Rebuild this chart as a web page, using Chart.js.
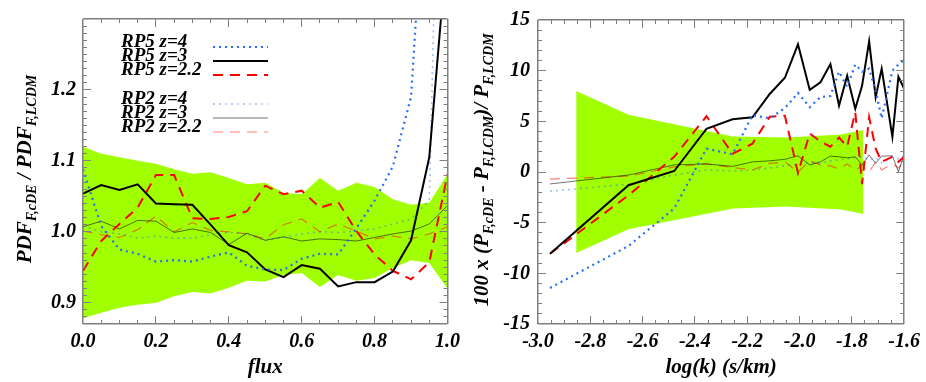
<!DOCTYPE html>
<html>
<head>
<meta charset="utf-8">
<script src="https://cdn.jsdelivr.net/npm/chart.js@4.4.0/dist/chart.umd.min.js"></script>
<style>
  body { margin: 0; background: #fff; }
  #wrap { position: relative; width: 926px; height: 382px; overflow: hidden; }
  canvas { position: absolute; top: 0; }
</style>
</head>
<body>
<div id="wrap">
  <canvas id="pdfChart" width="466" height="382" style="left:0"></canvas>
  <canvas id="pkChart" width="463" height="382" style="left:463px"></canvas>
</div>
<script>
// ---- left panel: flux PDF ratio ----
const flux = [0.0, 0.05, 0.1, 0.15, 0.2, 0.25, 0.3, 0.35, 0.4, 0.45, 0.5, 0.55, 0.6, 0.65, 0.7, 0.75, 0.8, 0.85, 0.9, 0.95, 1.0];
const rp5z4Pdf  = [1.088, 1.008, 0.975, 0.969, 0.958, 0.960, 0.958, 0.965, 0.971, 0.952, 0.947, 0.946, 0.962, 0.969, 0.968, 1.005, 1.044, 1.092, 1.190, 1.600, 2.200];
const rp5z3Pdf  = [1.054, 1.066, 1.059, 1.067, 1.040, 1.039, 1.038, 1.010, 0.981, 0.971, 0.947, 0.936, 0.953, 0.948, 0.923, 0.929, 0.929, 0.944, 0.988, 1.105, 1.410];
const rp5z22Pdf = [0.945, 0.987, 1.011, 1.034, 1.080, 1.080, 1.019, 1.018, 1.021, 1.029, 1.065, 1.053, 1.058, 1.034, 1.042, 1.001, 0.968, 0.945, 0.933, 0.957, 1.081];
const rp2z4Pdf  = [1.008, 1.000, 0.997, 0.991, 0.994, 0.991, 0.991, 0.996, 0.999, 0.997, 0.988, 0.992, 0.997, 1.000, 0.999, 1.001, 1.004, 1.011, 1.018, 1.044, 2.100];
const rp2z3Pdf  = [1.007, 1.015, 1.004, 1.016, 1.015, 0.999, 1.004, 0.999, 0.982, 0.998, 0.988, 0.993, 0.987, 0.990, 0.989, 0.987, 0.992, 0.997, 1.001, 1.011, 1.037];
const rp2z22Pdf = [1.001, 0.996, 0.992, 1.003, 1.022, 1.000, 1.013, 1.002, 1.000, 0.997, 0.990, 1.010, 1.018, 1.000, 1.011, 1.001, 0.990, 0.994, 0.990, 0.997, 1.007];
const bandPdfHi = [1.120, 1.110, 1.105, 1.100, 1.096, 1.088, 1.082, 1.084, 1.076, 1.067, 1.069, 1.055, 1.053, 1.076, 1.058, 1.069, 1.063, 1.046, 1.038, 1.041, 1.081];
const bandPdfLo = [0.878, 0.886, 0.893, 0.897, 0.900, 0.909, 0.915, 0.913, 0.921, 0.931, 0.930, 0.939, 0.942, 0.922, 0.939, 0.931, 0.935, 0.949, 0.960, 0.956, 0.920];
const fluxTicks = [0.0, 0.2, 0.4, 0.6, 0.8, 1.0];
const pdfTicks = [0.9, 1.0, 1.1, 1.2];

// ---- right panel: flux power spectrum difference ----
const logk = [-2.954, -2.654, -2.479, -2.356, -2.256, -2.180, -2.114, -2.056, -2.006, -1.961, -1.920, -1.882, -1.849, -1.818, -1.787, -1.761, -1.734, -1.709, -1.686, -1.645, -1.622, -1.600];
const rp5z4Pk  = [-11.44, -7.3, -3.6, 2.3, 1.76, 5.6, 5.3, 6.3, 7.8, 6.4, 7.4, 7.5, 9.9, 8.4, 10.6, 9.9, 10.2, 8.0, 5.3, 10.0, 10.6, 11.1];
const rp5z3Pk  = [-8.07, -1.3, 0.1, 4.25, 5.2, 5.4, 7.7, 9.3, 12.6, 8.1, 8.85, 10.65, 6.55, 9.5, 6.24, 8.5, 12.9, 7.4, 10.2, 3.46, 9.4, 8.2];
const rp5z22Pk = [-8.07, -2.3, 1.5, 5.5, 1.8, 2.8, 5.45, 5.55, -0.1, 3.8, 3.0, 2.5, 3.4, 2.5, 5.9, -1.2, 5.4, 2.3, 1.0, 1.5, 1.0, 1.5];
const rp2z4Pk  = [-1.9, -1.2, -0.3, 0.2, 0.1, 0.2, 0.4, 0.6, 0.8, 0.9, 0.9, 1.1, 1.2, 1.3, 1.4, 1.5, 1.2, 1.4, 0.9, 1.5, 1.3, 1.6];
const rp2z3Pk  = [-1.18, -0.3, 0.7, 0.8, 0.55, 1.0, 1.1, 1.25, 1.6, 0.7, 1.0, 1.57, 1.5, 1.4, 1.5, 0.7, 1.67, 0.85, 1.57, 1.6, 0.03, 1.67];
const rp2z22Pk = [-0.7, -0.4, 0.5, 0.8, 0.45, 0.2, 0.85, 1.0, 0.0, 1.1, 0.7, 0.6, 0.3, 0.8, 0.2, 0.6, 0.0, 1.0, 0.2, 0.8, 0.4, 1.0];
const bandK   = [-2.854, -2.654, -2.254, -2.050, -1.840, -1.756];
const bandPkHi = [8.0, 5.65, 3.5, 3.4, 3.7, 4.15];
const bandPkLo = [-8.0, -5.65, -3.6, -3.4, -3.7, -4.15];
const logkTicks = [-3.0, -2.8, -2.6, -2.4, -2.2, -2.0, -1.8, -1.6];
const pkTicks = [-15, -10, -5, 0, 5, 10, 15];

const labels = ['RP5 z=4', 'RP5 z=3', 'RP5 z=2.2', 'RP2 z=4', 'RP2 z=3', 'RP2 z=2.2'];
const styles = [
  {borderColor: 'rgb(40,110,240)', borderWidth: 2.2, borderDash: [2, 4]},
  {borderColor: '#000', borderWidth: 2},
  {borderColor: 'rgb(255,0,0)', borderWidth: 2, borderDash: [10, 7]},
  {borderColor: 'rgba(40,110,240,0.45)', borderWidth: 1.6, borderDash: [2, 4]},
  {borderColor: 'rgba(0,0,0,0.55)', borderWidth: 1},
  {borderColor: 'rgba(255,0,0,0.5)', borderWidth: 1.2, borderDash: [10, 7]}
];

const GREEN = 'rgb(160,255,0)';
const AXIS = '#808080';
const FONT = 'Liberation Serif';
const tickFont = {family: FONT, size: 20, style: 'italic', weight: 'bold'};

function pts(xs, ys) {
  return xs.map((x, i) => ({x: x, y: ys[i]}));
}

function lineSets(xs, series) {
  return series.map((ys, i) => Object.assign({
    label: labels[i],
    data: pts(xs, ys),
    pointRadius: 0,
    fill: false,
    tension: 0,
    clip: 0,
    order: 0
  }, styles[i]));
}

function bandSets(xs, hi, lo) {
  return [
    {label: 'band', data: pts(xs, hi), borderWidth: 0, pointRadius: 0, backgroundColor: GREEN, fill: '+1', order: 10, clip: 0},
    {label: 'band', data: pts(xs, lo), borderWidth: 0, pointRadius: 0, fill: false, order: 10, clip: 0}
  ];
}

function near(v, list) {
  return list.some(t => Math.abs(t - v) < 1e-6);
}

// tick positions every `step` between min and max (minor + major)
function tickRun(min, max, step) {
  const n = Math.round((max - min) / step);
  const out = [];
  for (let i = 0; i <= n; i++) out.push(+(min + i * step).toFixed(6));
  return out;
}

// Grid lines do the frame: the lines at min/max are the box edges, every
// other grid line is dashed so only a short piece shows at each end (inward ticks).
function frameAxis(vertical, min, max, all, major, extra) {
  const edge = c => c.tick && near(c.tick.value, [min, max]);
  return Object.assign({
    type: 'linear',
    min: min, max: max,
    afterBuildTicks: s => { s.ticks = all.map(v => ({value: v})); },
    grid: {
      display: true,
      drawOnChartArea: true,
      drawTicks: false,
      z: 1,
      color: AXIS,
      lineWidth: c => edge(c) ? 1.5 : 1
    },
    border: {
      display: false,
      dash: c => {
        const a = c.chart.chartArea;
        if (!c.tick || !a || edge(c)) return [];
        const span = vertical ? (a.bottom - a.top) : (a.right - a.left);
        const len = near(c.tick.value, major) ? 8 : 4;
        return [len, Math.max(span - 2 * len, 1), len, 4000];
      }
    }
  }, extra);
}

// rotated y title with subscripts and the in-panel key
function decorPlugin(cfg) {
  return {
    id: 'decor',
    afterDraw(chart) {
      const ctx = chart.ctx;
      const t = cfg.yTitle;
      const main = 'italic bold 21px "' + FONT + '"';
      const sub = 'italic bold 14px "' + FONT + '"';
      ctx.save();
      ctx.translate(t.x, t.y);
      ctx.rotate(-Math.PI / 2);
      ctx.fillStyle = '#000';
      ctx.textBaseline = 'alphabetic';
      let total = 0;
      t.parts.forEach(p => { ctx.font = p[1] ? sub : main; total += ctx.measureText(p[0]).width; });
      let cx = -total / 2;
      t.parts.forEach(p => {
        ctx.font = p[1] ? sub : main;
        ctx.fillText(p[0], cx, p[1] ? 5 : 0);
        cx += ctx.measureText(p[0]).width;
      });
      ctx.restore();

      const k = cfg.keyBox;
      if (!k) return;
      ctx.save();
      ctx.font = 'italic bold 19px "' + FONT + '"';
      ctx.fillStyle = '#000';
      ctx.textBaseline = 'alphabetic';
      chart.data.datasets.forEach((ds, i) => {
        if (ds.label === 'band') return;
        const yy = k.rows[i];
        ctx.fillText(ds.label, k.textX, yy);
        ctx.beginPath();
        ctx.strokeStyle = ds.borderColor;
        ctx.lineWidth = ds.borderWidth;
        ctx.setLineDash(ds.borderDash || []);
        ctx.moveTo(k.lineX0, yy);
        ctx.lineTo(k.lineX1, yy);
        ctx.stroke();
      });
      ctx.restore();
    }
  };
}

function makeChart(id, cfg) {
  const xAll = tickRun(cfg.xMin, cfg.xMax, cfg.xMinor);
  const yAll = tickRun(cfg.yMin, cfg.yMax, cfg.yMinor);
  return new Chart(document.getElementById(id), {
    type: 'line',
    data: {datasets: cfg.datasets},
    plugins: [decorPlugin(cfg)],
    options: {
      responsive: false,
      animation: false,
      devicePixelRatio: 1,
      layout: {padding: {top: 19, right: cfg.padRight, left: 0, bottom: 0}},
      plugins: {
        legend: {display: false},
        tooltip: {enabled: false}
      },
      scales: {
        x: frameAxis(true, cfg.xMin, cfg.xMax, xAll, cfg.xTicks, {
          afterFit: s => { s.height = 58; },
          ticks: {autoSkip: false, font: tickFont, color: '#000', padding: 6, maxRotation: 0,
                  callback: v => near(v, cfg.xTicks) ? v.toFixed(1) : ''},
          title: {display: true, text: cfg.xTitle, color: '#000',
                  font: {family: FONT, size: 21, style: 'italic', weight: 'bold'}, padding: {top: 0, bottom: 2}}
        }),
        y: frameAxis(false, cfg.yMin, cfg.yMax, yAll, cfg.yTicks, {
          afterFit: s => { s.width = cfg.yWidth; },
          ticks: {autoSkip: false, font: tickFont, color: '#000', padding: cfg.yPad,
                  callback: v => near(v, cfg.yTicks) ? cfg.yFmt(v) : ''}
        })
      }
    }
  });
}

makeChart('pdfChart', {
  datasets: lineSets(flux, [rp5z4Pdf, rp5z3Pdf, rp5z22Pdf, rp2z4Pdf, rp2z3Pdf, rp2z22Pdf])
    .concat(bandSets(flux, bandPdfHi, bandPdfLo)),
  xMin: 0, xMax: 1, xMinor: 0.05, yMin: 0.87, yMax: 1.30, yMinor: 0.01,
  xTicks: fluxTicks, yTicks: pdfTicks, yWidth: 83, yPad: 7, padRight: 0,
  yFmt: v => v.toFixed(1),
  xTitle: 'flux',
  yTitle: {x: 31, y: 169, parts: [['PDF', 0], ['F,cDE', 1], [' / PDF', 0], ['F,LCDM', 1]]},
  keyBox: {rows: [47, 61, 75, 104, 118, 132], textX: 121, lineX0: 213, lineX1: 268}
});

makeChart('pkChart', {
  datasets: lineSets(logk, [rp5z4Pk, rp5z3Pk, rp5z22Pk, rp2z4Pk, rp2z3Pk, rp2z22Pk])
    .concat(bandSets(bandK, bandPkHi, bandPkLo)),
  xMin: -3.0, xMax: -1.6, xMinor: 0.05, yMin: -15, yMax: 15, yMinor: 1,
  xTicks: logkTicks, yTicks: pkTicks, yWidth: 75, yPad: 8, padRight: 17,
  yFmt: v => String(v),
  xTitle: 'log(k) (s/km)',
  yTitle: {x: 25, y: 170, parts: [['100 x (P', 0], ['F,cDE', 1], [' - P', 0], ['F,LCDM', 1], [')/ P', 0], ['F,LCDM', 1]]},
  keyBox: null
});
</script>
</body>
</html>
